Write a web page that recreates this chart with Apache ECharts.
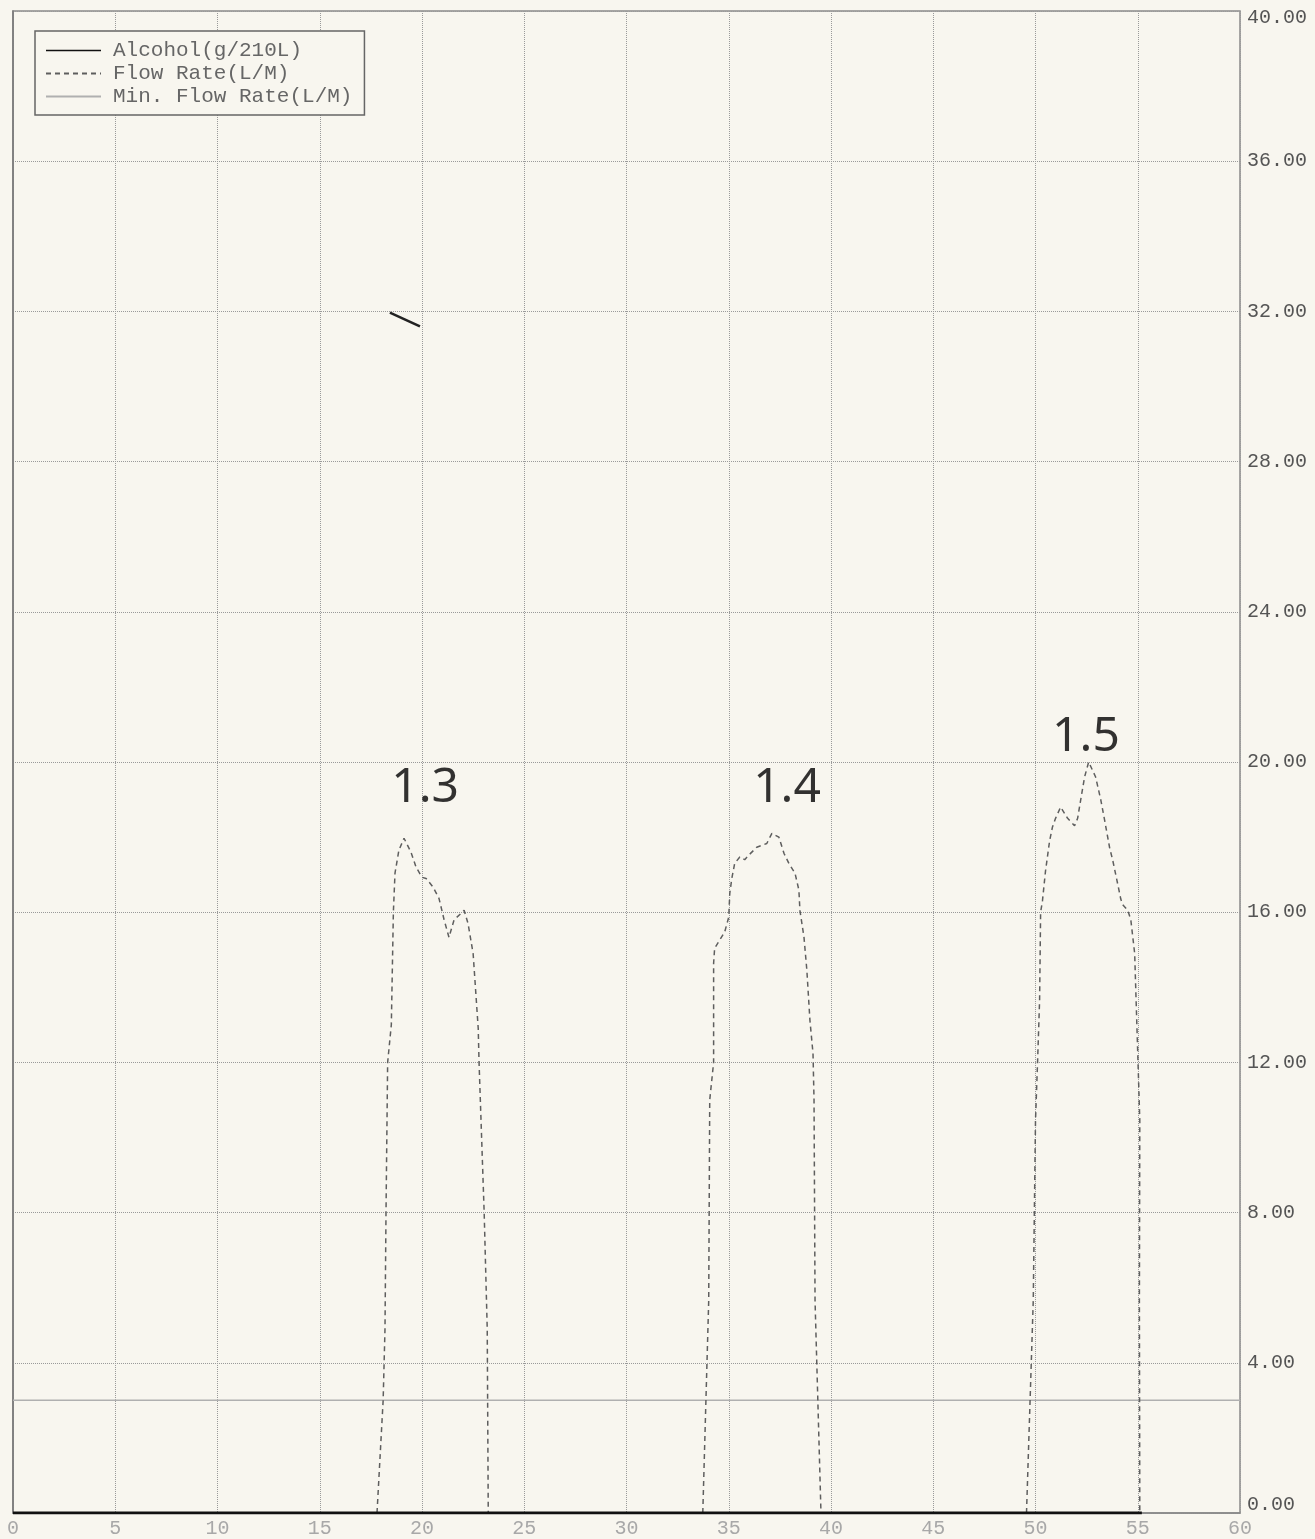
<!DOCTYPE html>
<html><head><meta charset="utf-8">
<script src="https://cdn.jsdelivr.net/npm/echarts@6/dist/echarts.min.js"></script>
<style>html,body{margin:0;padding:0;background:#f8f6ef}#c{width:1315px;height:1539px}</style>
</head><body><div id="c"></div><script>
// ---- data ----
const xTicks = [0, 5, 10, 15, 20, 25, 30, 35, 40, 45, 50, 55, 60];
const yTicks = [0, 4, 8, 12, 16, 20, 24, 28, 32, 36, 40];

const alcoholBaseline = [[0, 0], [55.2, 0]];
const alcoholMark = [[18.43, 31.97], [19.9, 31.6]];

const flowPeak1 = [[17.8,0],[18.1,3],[18.19,4.9],[18.24,8],[18.32,12],[18.5,13],[18.6,16],[18.68,17.04],[18.87,17.65],[19.12,17.97],[19.46,17.6],[19.71,17.2],[20.0,16.93],[20.2,16.9],[20.54,16.67],[20.83,16.37],[21.08,15.8],[21.32,15.33],[21.57,15.8],[21.91,15.97],[22.06,16.05],[22.25,15.7],[22.5,14.9],[22.65,13.7],[22.75,12.9],[22.79,12],[23.04,8],[23.19,4.9],[23.24,0]];
const flowPeak2 = [[33.73,0],[34.02,5.65],[34.07,11],[34.26,12],[34.26,14.64],[34.31,15.04],[34.8,15.47],[35.0,15.87],[35.05,16.5],[35.15,16.9],[35.29,17.3],[35.54,17.47],[35.78,17.4],[35.98,17.52],[36.37,17.73],[36.86,17.83],[37.11,18.1],[37.45,18.0],[37.7,17.57],[37.94,17.3],[38.24,17.04],[38.43,16.59],[38.48,16.05],[38.68,15.33],[38.82,14.45],[38.97,13.12],[39.12,12.24],[39.17,11],[39.22,5.65],[39.51,0]];
const flowPeak3 = [[49.56,0],[49.89,5.65],[50.0,10.45],[50.1,12],[50.2,13.65],[50.25,16],[50.34,16.3],[50.49,17.1],[50.69,17.9],[50.83,18.27],[50.98,18.5],[51.23,18.8],[51.57,18.5],[51.91,18.3],[52.06,18.5],[52.21,18.99],[52.4,19.6],[52.6,20.0],[52.94,19.6],[53.19,19.0],[53.38,18.45],[53.63,17.7],[53.77,17.4],[54.02,16.75],[54.17,16.35],[54.26,16.2],[54.51,16.05],[54.66,15.8],[54.85,14.9],[54.9,14.0],[55.0,12.24],[55.1,10.45],[55.08,5.65],[55.1,0]];

const minFlowRate = [[0, 3], [60, 3]];

const annotations = [[20.15, 19.31, '1.3'], [37.85, 19.31, '1.4'], [52.47, 20.66, '1.5']];

const seriesNames = ['Alcohol(g/210L)', 'Flow Rate(L/M)', 'Min. Flow Rate(L/M)'];

// ---- chart ----
const mono = 'Liberation Mono';
const bg = '#f8f6ef';
const chart = echarts.init(document.getElementById('c'), null, {renderer: 'canvas'});
const xMin = xTicks[0], xMax = xTicks[xTicks.length - 1], xInt = xTicks[1] - xTicks[0];
const yMin = yTicks[0], yMax = yTicks[yTicks.length - 1], yInt = yTicks[1] - yTicks[0];
const flowStyle = {color: '#5e5e5e', width: 1.5, type: [5, 4]};
const clear = 'rgba(0,0,0,0)';

const option = {
  backgroundColor: bg,
  animation: false,
  grid: {left: 13, top: 11, right: 75, bottom: 25, show: true, borderColor: '#8a8a8a', borderWidth: 1.5, containLabel: false},
  legend: {
    show: true, orient: 'vertical', left: 35, top: 31,
    padding: [9, 12, 8, 10], itemGap: 2, itemWidth: 55, itemHeight: 14,
    borderColor: '#666', borderWidth: 1.5, backgroundColor: bg,
    itemStyle: {color: clear, borderColor: clear, borderWidth: 0},
    textStyle: {fontFamily: mono, fontSize: 21, color: '#666', padding: [0, 0, 0, 7]},
    data: [
      {name: seriesNames[0], lineStyle: {width: 1.5}},
      {name: seriesNames[1]},
      {name: seriesNames[2]}
    ]
  },
  xAxis: {
    type: 'value', min: xMin, max: xMax, interval: xInt,
    axisLine: {show: true, onZero: false, lineStyle: {color: '#888', width: 1.5}},
    axisTick: {show: false},
    axisLabel: {color: '#a8a8a8', fontFamily: mono, fontSize: 20, margin: 6, formatter: v => String(v)},
    splitLine: {show: true, lineStyle: {type: 'dotted', color: '#9a9a9a', width: 1}}
  },
  yAxis: {
    type: 'value', position: 'right', min: yMin, max: yMax, interval: yInt,
    axisLine: {show: true, lineStyle: {color: '#777', width: 1.5}},
    axisTick: {show: false},
    axisLabel: {
      color: '#555', fontFamily: mono, fontSize: 20, margin: 7,
      formatter: v => {
        const s = v.toFixed(2);
        if (v === yMax) return '{t|' + s + '}';
        if (v === yMin) return '{b|' + s + '}';
        return s;
      },
      rich: {
        t: {fontFamily: mono, fontSize: 20, color: '#555', padding: [14, 0, 0, 0]},
        b: {fontFamily: mono, fontSize: 20, color: '#555', padding: [0, 0, 16, 0]}
      }
    },
    splitLine: {show: true, lineStyle: {type: 'dotted', color: '#9a9a9a', width: 1}}
  },
  series: [
    {name: seriesNames[0], type: 'line', symbol: 'none', data: alcoholBaseline, lineStyle: {color: '#111', width: 3}, itemStyle: {color: '#111'}, z: 5},
    {name: seriesNames[1], type: 'line', symbol: 'none', data: flowPeak1, lineStyle: flowStyle, itemStyle: {color: '#5e5e5e'}, z: 4},
    {name: seriesNames[2], type: 'line', symbol: 'none', data: minFlowRate, lineStyle: {color: '#b0b0b0', width: 1.5}, itemStyle: {color: '#b0b0b0'}, z: 3},
    {name: seriesNames[1], type: 'line', symbol: 'none', data: flowPeak2, lineStyle: flowStyle, itemStyle: {color: '#5e5e5e'}, z: 4},
    {name: seriesNames[1], type: 'line', symbol: 'none', data: flowPeak3, lineStyle: flowStyle, itemStyle: {color: '#5e5e5e'}, z: 4},
    {name: seriesNames[0], type: 'line', symbol: 'none', data: alcoholMark, lineStyle: {color: '#222', width: 2.5}, itemStyle: {color: '#222'}, z: 5},
    {
      name: 'annotations', type: 'scatter', symbolSize: 2, itemStyle: {color: clear},
      data: annotations,
      label: {show: true, position: 'inside', formatter: p => p.value[2], fontFamily: 'Noto Sans', fontSize: 48, color: '#000'},
      z: 6
    }
  ]
};
chart.setOption(option);
</script></body></html>
